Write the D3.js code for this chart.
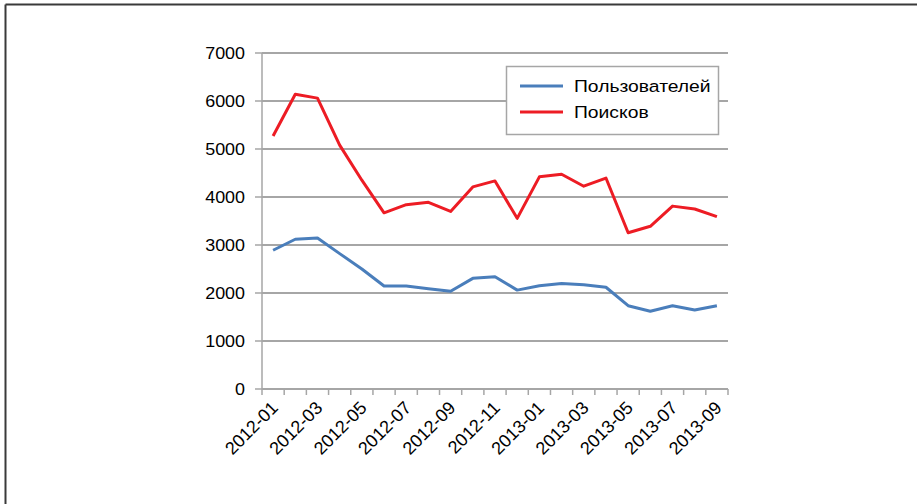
<!DOCTYPE html>
<html><head><meta charset="utf-8">
<script src="https://cdn.jsdelivr.net/npm/d3@7"></script>
<style>body{margin:0;background:#fff}svg{display:block}text{font-family:"Liberation Sans",Arial,sans-serif;fill:#000}</style>
</head><body><svg id="c" width="917" height="504"></svg>
<script>
const categories = ["2012-01","2012-02","2012-03","2012-04","2012-05","2012-06","2012-07","2012-08","2012-09","2012-10","2012-11","2012-12","2013-01","2013-02","2013-03","2013-04","2013-05","2013-06","2013-07","2013-08","2013-09"];
const users = [2890,3120,3145,2820,2500,2145,2145,2090,2035,2305,2340,2060,2150,2200,2170,2120,1735,1620,1735,1645,1735];
const searches = [5270,6140,6060,5080,4350,3670,3840,3890,3700,4210,4335,3555,4420,4475,4225,4395,3255,3390,3810,3750,3590];
const seriesNames = ["Пользователей","Поисков"];
const yTicks = [0,1000,2000,3000,4000,5000,6000,7000];
const colors = ["#4a7ebb","#ed1c24"];

const svg = d3.select("#c");
const SX = 1.12;
// frame
svg.append("line").attr("x1",5.5).attr("x2",917).attr("y1",4.5).attr("y2",4.5).attr("stroke","#3a3a3a").attr("stroke-width",2);
svg.append("line").attr("x1",5.5).attr("x2",5.5).attr("y1",4.5).attr("y2",504).attr("stroke","#3a3a3a").attr("stroke-width",2);

const L=262, R=728, T=53, B=389;
const x = d3.scaleBand().domain(categories).range([L,R]);
const y = d3.scaleLinear().domain([0,7000]).range([B,T]);

// gridlines
svg.append("g").selectAll("line").data(yTicks.filter(d=>d>0)).join("line")
  .attr("x1",L).attr("x2",R).attr("y1",d=>y(d)).attr("y2",d=>y(d))
  .attr("stroke","#a6a6a6").attr("stroke-width",2);
// y axis line and ticks
svg.append("line").attr("x1",L).attr("x2",L).attr("y1",T).attr("y2",B).attr("stroke","#a6a6a6").attr("stroke-width",1.5);
svg.append("g").selectAll("line").data(yTicks).join("line")
  .attr("x1",L-7).attr("x2",L).attr("y1",d=>y(d)).attr("y2",d=>y(d)).attr("stroke","#a6a6a6").attr("stroke-width",1.5);
svg.append("g").selectAll("text").data(yTicks).join("text")
  .attr("transform",d=>`translate(245,${y(d)+6}) scale(${SX},1)`)
  .attr("text-anchor","end").attr("font-size",16).text(d=>d);
// x axis
svg.append("line").attr("x1",L).attr("x2",R).attr("y1",B).attr("y2",B).attr("stroke","#a6a6a6").attr("stroke-width",2);
const bounds = categories.map(c=>x(c)).concat([R]);
svg.append("g").selectAll("line").data(bounds).join("line")
  .attr("x1",d=>d).attr("x2",d=>d).attr("y1",B).attr("y2",B+6).attr("stroke","#a6a6a6").attr("stroke-width",1.5);
svg.append("g").selectAll("text").data(categories.filter((c,i)=>i%2===0)).join("text")
  .attr("transform",d=>`translate(${x(d)+x.bandwidth()/2+6},409) rotate(-45)`)
  .attr("text-anchor","end").attr("font-size",18).text(d=>d);

// lines
const line = d3.line().x((d,i)=>x(categories[i])+x.bandwidth()/2).y(d=>y(d));
[users,searches].forEach((s,k)=>{
  svg.append("path").datum(s).attr("d",line).attr("fill","none")
    .attr("stroke",colors[k]).attr("stroke-width",3).attr("stroke-linejoin","round");
});

// legend
svg.append("rect").attr("x",506.5).attr("y",66.5).attr("width",212).attr("height",68)
  .attr("fill","#fff").attr("stroke","#a6a6a6").attr("stroke-width",1.5);
seriesNames.forEach((n,k)=>{
  const ly = 86 + k*26;
  svg.append("line").attr("x1",520).attr("x2",563).attr("y1",ly).attr("y2",ly).attr("stroke",colors[k]).attr("stroke-width",3);
  svg.append("text").attr("transform",`translate(574,${ly+6}) scale(1.17,1)`).attr("font-size",16.5).text(n);
});
</script></body></html>
